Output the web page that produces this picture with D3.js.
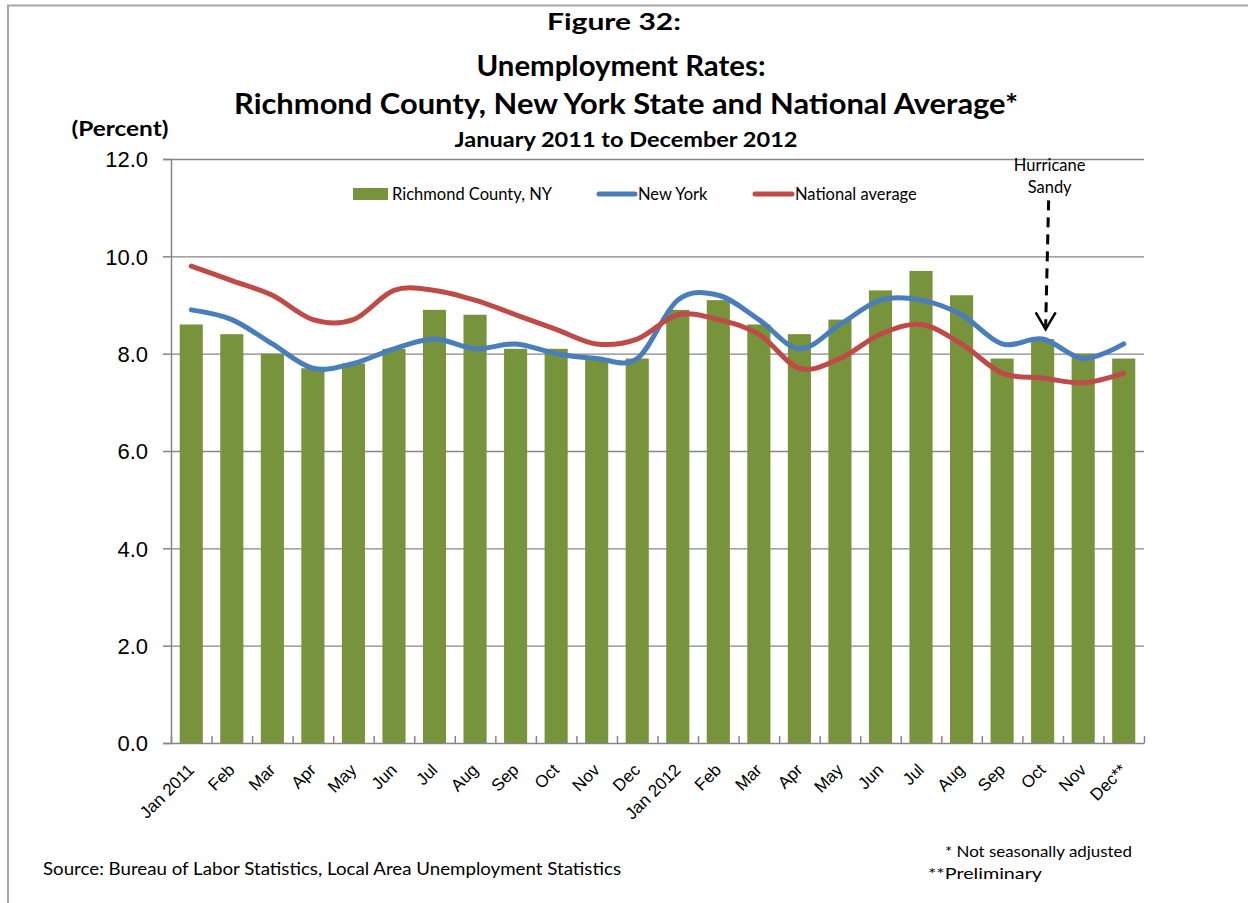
<!DOCTYPE html>
<html>
<head>
<meta charset="utf-8">
<script src="https://cdnjs.cloudflare.com/ajax/libs/d3/7.8.5/d3.min.js"></script>
<style>
  body { margin: 0; background: #fff; }
  svg { display: block; font-family: Lato, "Open Sans", sans-serif; }
</style>
</head>
<body>
<svg id="chart" width="1248" height="903"></svg>
<script>
// month labels along the x axis
var months = ["Jan 2011","Feb","Mar","Apr","May","Jun","Jul","Aug","Sep","Oct","Nov","Dec",
              "Jan 2012","Feb","Mar","Apr","May","Jun","Jul","Aug","Sep","Oct","Nov","Dec**"];

// unemployment rates, percent
var richmond = [8.6,8.4,8.0,7.7,7.8,8.1,8.9,8.8,8.1,8.1,7.9,7.9,
                8.9,9.1,8.6,8.4,8.7,9.3,9.7,9.2,7.9,8.3,8.0,7.9];
var newYork  = [8.9,8.7,8.2,7.7,7.8,8.1,8.3,8.1,8.2,8.0,7.9,7.9,
                9.1,9.2,8.7,8.1,8.6,9.1,9.1,8.8,8.2,8.3,7.9,8.2];
var national = [9.8,9.5,9.2,8.7,8.7,9.3,9.3,9.1,8.8,8.5,8.2,8.3,
                8.8,8.7,8.4,7.7,7.9,8.4,8.6,8.2,7.6,7.5,7.4,7.6];

var yTicks = [0,2,4,6,8,10,12];
var seriesNames = ["Richmond County, NY","New York","National average"];

// Hurricane Sandy annotation (month index, arrow from / to in percent)
var sandy = { lines: ["Hurricane","Sandy"], index: 21, from: 11.15, to: 8.5 };

var colors = { bar: "#77933C", ny: "#4A7EBB", nat: "#BE4B48", grid: "#868686" };

var svg = d3.select("#chart");
var plotLeft = 171, plotRight = 1144, plotTop = 159, plotBottom = 743;

// frame
svg.append("path")
  .attr("d", "M8,903 L8,5.5 L1248,5.5")
  .attr("fill", "none").attr("stroke", "#a6a6a6").attr("stroke-width", 2);

// titles
function fit(t, w) {
  t.attr("textLength", w).attr("lengthAdjust", "spacingAndGlyphs");
  return t;
}
fit(svg.append("text").attr("x", 614).attr("y", 30).attr("text-anchor", "middle")
  .style("font-weight", "bold").style("font-size", "22px").text("Figure 32:"), 134);
fit(svg.append("text").attr("x", 621).attr("y", 76).attr("text-anchor", "middle")
  .style("font-weight", "bold").style("font-size", "29px").text("Unemployment Rates:"), 289);
fit(svg.append("text").attr("x", 626).attr("y", 114).attr("text-anchor", "middle")
  .style("font-weight", "bold").style("font-size", "29px")
  .text("Richmond County, New York State and National Average*"), 784);
fit(svg.append("text").attr("x", 626).attr("y", 147).attr("text-anchor", "middle")
  .style("font-weight", "bold").style("font-size", "20px")
  .text("January 2011 to December 2012"), 343);
fit(svg.append("text").attr("x", 120).attr("y", 136).attr("text-anchor", "middle")
  .style("font-weight", "bold").style("font-size", "21px").text("(Percent)"), 97);

// scales
var x = d3.scaleBand().domain(d3.range(months.length)).range([plotLeft, plotRight])
  .paddingInner(0.43).paddingOuter(0.215);
var y = d3.scaleLinear().domain([0, 12]).range([plotBottom, plotTop]);
var xEdge = d3.scaleLinear().domain([0, months.length]).range([plotLeft, plotRight]);

// gridlines
svg.append("g").attr("transform", "translate(" + plotLeft + ",0)")
  .call(d3.axisLeft(y).tickValues(yTicks.slice(1)).tickSize(-(plotRight - plotLeft)).tickFormat(""))
  .call(g => g.select(".domain").remove())
  .selectAll("line").attr("stroke", colors.grid).attr("stroke-width", 1.3);

// bars
svg.append("g").selectAll("rect")
  .data(richmond)
  .enter().append("rect")
    .attr("x", (d, i) => x(i))
    .attr("width", x.bandwidth())
    .attr("y", d => y(d))
    .attr("height", d => plotBottom - y(d))
    .attr("fill", colors.bar);

// y axis
var yAxis = svg.append("g").attr("transform", "translate(" + plotLeft + ",0)")
  .call(d3.axisLeft(y).tickValues(yTicks).tickSize(8).tickPadding(15).tickFormat(d3.format(".1f")));
yAxis.select(".domain").attr("stroke", colors.grid).attr("stroke-width", 1.5);
yAxis.selectAll("line").attr("stroke", colors.grid).attr("stroke-width", 1.5);
yAxis.selectAll("text").style("font-size", "22px").attr("fill", "#000").attr("dy", "0.36em");

// x axis: boundary ticks pointing up
var xAxis = svg.append("g").attr("transform", "translate(0," + plotBottom + ")")
  .call(d3.axisBottom(xEdge).tickValues(d3.range(months.length + 1)).tickSize(-7).tickSizeOuter(0).tickFormat(""));
xAxis.select(".domain").attr("stroke", colors.grid).attr("stroke-width", 1.5);
xAxis.selectAll("line").attr("stroke", colors.grid).attr("stroke-width", 1.5);

// x labels
var xLab = svg.append("g").attr("transform", "translate(0," + plotBottom + ")")
  .call(d3.axisBottom(x).tickSize(0).tickFormat(i => months[i]));
xLab.select(".domain").remove();
xLab.selectAll("text")
  .attr("x", 0).attr("y", 0).attr("dy", 0)
  .attr("transform", "translate(4,28) rotate(-45)")
  .attr("text-anchor", "end")
  .style("font-size", "17px").attr("fill", "#000");

// lines
var line = d3.line()
  .x((d, i) => x(i) + x.bandwidth() / 2)
  .y(d => y(d))
  .curve(d3.curveCardinal.tension(0));

svg.append("path").datum(newYork)
  .attr("d", line).attr("fill", "none")
  .attr("stroke", colors.ny).attr("stroke-width", 5).attr("stroke-linecap", "round");
svg.append("path").datum(national)
  .attr("d", line).attr("fill", "none")
  .attr("stroke", colors.nat).attr("stroke-width", 5).attr("stroke-linecap", "round");

// legend
var lg = svg.append("g").style("font-size", "16.5px");
lg.append("rect").attr("x", 353).attr("y", 188).attr("width", 35).attr("height", 12).attr("fill", colors.bar);
lg.append("text").attr("x", 392).attr("y", 200).text(seriesNames[0]);
lg.append("line").attr("x1", 599).attr("x2", 635).attr("y1", 194).attr("y2", 194)
  .attr("stroke", colors.ny).attr("stroke-width", 5).attr("stroke-linecap", "round");
lg.append("text").attr("x", 638).attr("y", 200).text(seriesNames[1]);
lg.append("line").attr("x1", 755).attr("x2", 792).attr("y1", 194).attr("y2", 194)
  .attr("stroke", colors.nat).attr("stroke-width", 5).attr("stroke-linecap", "round");
lg.append("text").attr("x", 795).attr("y", 200).text(seriesNames[2]);

// Hurricane Sandy arrow
var ax = x(sandy.index) + x.bandwidth() / 2 + 3;
svg.append("g").selectAll("text")
  .data(sandy.lines)
  .enter().append("text")
    .attr("x", ax + 4).attr("y", (d, i) => 171 + i * 22)
    .attr("text-anchor", "middle").style("font-size", "16.5px")
    .text(d => d);
svg.append("line")
  .attr("x1", ax + 3).attr("y1", y(sandy.from))
  .attr("x2", ax).attr("y2", y(sandy.to) - 3)
  .attr("stroke", "#000").attr("stroke-width", 3).attr("stroke-dasharray", "10,7");
svg.append("path")
  .attr("d", "M" + (ax - 10) + "," + (y(sandy.to) - 17) + " L" + ax + "," + y(sandy.to) + " L" + (ax + 10) + "," + (y(sandy.to) - 17))
  .attr("fill", "none").attr("stroke", "#000").attr("stroke-width", 2.5);

// notes
fit(svg.append("text").attr("x", 43).attr("y", 875).style("font-size", "17px")
  .text("Source: Bureau of Labor Statistics, Local Area Unemployment Statistics"), 578);
fit(svg.append("text").attr("x", 945).attr("y", 857).style("font-size", "16px")
  .text("* Not seasonally adjusted"), 187);
fit(svg.append("text").attr("x", 928).attr("y", 879).style("font-size", "16px")
  .text("**Preliminary"), 114);
</script>
</body>
</html>
